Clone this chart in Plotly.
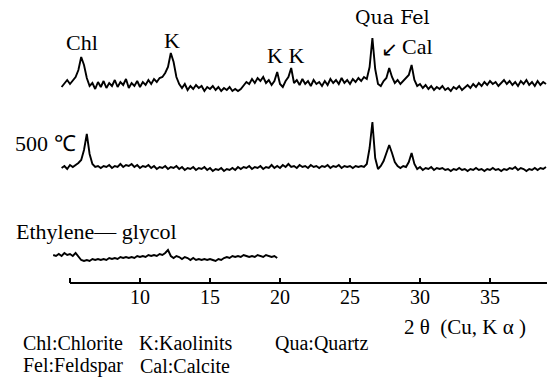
import numpy as np
import plotly.graph_objects as go

# ---------------- data ----------------
# 2-theta grid step (degrees) and starting angles of each pattern
STEP = 0.2
untreated_start = 4.4
heated_start = 4.4
glycol_start = 3.8

# relative intensities (arbitrary units)
untreated = [
    18, 22, 25, 21, 24,
    28, 35, 48, 40, 27,
    19, 22, 16, 23, 18,
    24, 17, 22, 19, 25,
    18, 23, 20, 26, 17,
    22, 19, 24, 18, 23,
    20, 25, 21, 26, 23,
    27, 28, 32, 38, 52,
    43, 28, 21, 17, 21,
    15, 19, 16, 20, 17,
    19, 14, 18, 16, 19,
    15, 18, 14, 17, 15,
    18, 14, 16, 14, 16,
    19, 23, 21, 26, 22,
    27, 24, 28, 22, 25,
    20, 24, 33, 21, 18,
    24, 28, 37, 22, 25,
    20, 26, 21, 24, 19,
    25, 21, 23, 19, 24,
    20, 26, 22, 25, 21,
    27, 22, 25, 21, 26,
    23, 27, 24, 28, 26,
    38, 67, 36, 21, 19,
    24, 27, 37, 28, 22,
    25, 21, 24, 27, 30,
    40, 25, 19, 21, 17,
    20, 16, 19, 15, 18,
    16, 19, 15, 17, 14,
    18, 16, 19, 15, 18,
    20, 17, 21, 18, 22,
    19, 23, 20, 24, 21,
    23, 19, 22, 25, 21,
    24, 20, 23, 19, 24,
    21, 25, 20, 23, 19,
    24, 20, 23, 21,
]

heated_500 = [
    20, 22, 19, 23, 21,
    23, 25, 28, 38, 54,
    34, 24, 21, 22, 20,
    22, 21, 23, 20, 22,
    21, 24, 21, 23, 22,
    24, 21, 23, 20, 22,
    21, 23, 20, 22, 19,
    21, 20, 22, 19, 21,
    20, 22, 19, 21, 18,
    20, 19, 21, 18, 20,
    19, 21, 18, 20, 17,
    19, 18, 20, 17, 19,
    18, 20, 18, 21, 19,
    21, 20, 22, 19, 21,
    20, 22, 19, 21, 20,
    23, 20, 22, 20, 23,
    21, 24, 21, 22, 20,
    23, 21, 22, 20, 23,
    21, 22, 20, 22, 21,
    23, 20, 22, 21, 23,
    20, 22, 21, 22, 20,
    22, 21, 22, 21, 24,
    40, 66, 30, 19, 22,
    27, 34, 43, 35, 26,
    22, 20, 22, 21, 26,
    35, 24, 19, 21, 18,
    20, 19, 21, 18, 20,
    19, 20, 18, 19, 17,
    19, 18, 20, 18, 19,
    17, 19, 18, 20, 18,
    19, 17, 19, 18, 20,
    18, 19, 17, 19, 18,
    20, 19, 21, 18, 20,
    19, 17, 19, 18, 20,
    18, 20, 19, 21,
]

glycol = [
    23, 22, 24, 22, 25,
    23, 24, 22, 25, 22,
    18, 17, 18, 17, 19,
    18, 19, 18, 19, 18,
    20, 19, 20, 19, 21,
    20, 21, 20, 21, 20,
    22, 21, 22, 21, 23,
    22, 23, 22, 24, 23,
    25, 28, 22, 20, 22,
    21, 19, 21, 20, 18,
    20, 18, 19, 18, 19,
    18, 19, 18, 17, 19,
    18, 20, 21, 20, 22,
    21, 22, 21, 23, 22,
    21, 22, 21, 23, 22,
    21, 23, 22, 21, 22,
    20,
]

tick_values = [5, 10, 15, 20, 25, 30, 35]
tick_labels = ["", "10", "15", "20", "25", "30", "35"]

peak_labels = ["Chl", "K", "K K", "Cal"]
legend_line1 = ["Chl:Chlorite", "K:Kaolinits", "Qua:Quartz"]
legend_line2 = ["Fel:Feldspar", "Cal:Calcite"]

# ---------------- layout constants ----------------
W, H = 551, 387
PLOT_H = 283            # plot area height (px); axis at bottom
MB = H - PLOT_H
offsets = {"untreated": 178, "heated": 95, "glycol": 5}
SERIF = "Liberation Serif, Times New Roman, Times, serif"


def grid(start, vals):
    return np.round(start + STEP * np.arange(len(vals)), 2)


def xp(px):
    return px / W


def yp(py):
    return (PLOT_H - py) / PLOT_H


fig = go.Figure()
for start, vals, key in [(untreated_start, untreated, "untreated"),
                         (heated_start, heated_500, "heated"),
                         (glycol_start, glycol, "glycol")]:
    fig.add_trace(go.Scatter(
        x=grid(start, vals), y=np.array(vals) + offsets[key],
        mode="lines", line=dict(color="black", width=1.9),
        hoverinfo="skip", showlegend=False))

# axis base line from 5 deg to the end
fig.add_shape(type="line", xref="x", yref="paper", x0=5, x1=39.07, y0=0, y1=0,
              line=dict(color="black", width=2))

ann = []


def add(text, px, py, size, family=SERIF, xanchor="center"):
    ann.append(dict(text=text, x=xp(px), y=yp(py), xref="paper", yref="paper",
                    showarrow=False, xanchor=xanchor, yanchor="middle",
                    font=dict(family=family, size=size, color="black")))


add(peak_labels[0], 82, 43, 22)
add(peak_labels[1], 172, 40, 22)
add(peak_labels[2], 285, 55, 22)
add("Qua Fel", 393, 17, 19, family="DejaVu Serif, serif")
add("↙", 389, 49, 20, family="DejaVu Sans")
add(peak_labels[3], 417, 47, 22)
add("500 ℃", 45, 143, 22)
add("Ethylene— glycol", 96, 231, 22)
for txt, left in zip(legend_line1, [21, 137, 273]):
    add(txt, left, 343, 20, xanchor="left")
for txt, left in zip(legend_line2, [21, 138]):
    add(txt, left, 366, 20, xanchor="left")
add("2 θ  (Cu, K α )", 465, 327, 21)

fig.update_layout(
    width=W, height=H,
    margin=dict(l=0, r=0, t=0, b=MB, pad=0),
    paper_bgcolor="white", plot_bgcolor="white",
    annotations=ann,
    xaxis=dict(range=[0, W / 14], showline=False, showgrid=False, zeroline=False,
               ticks="inside", ticklen=5, tickwidth=1.5, tickcolor="black",
               tickvals=tick_values, ticktext=tick_labels,
               tickfont=dict(family=SERIF, size=20, color="black")),
    yaxis=dict(range=[0, PLOT_H], visible=False, fixedrange=True),
)

fig.write_html("out.html", config={"displayModeBar": False},
               post_script="document.body.style.margin='0px';")
